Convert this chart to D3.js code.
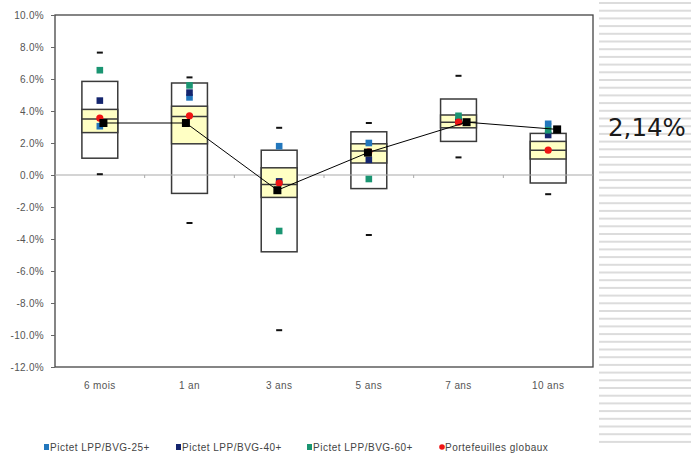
<!DOCTYPE html>
<html>
<head>
<meta charset="utf-8">
<script src="https://cdn.jsdelivr.net/npm/d3@7"></script>
<style>
  html, body { margin: 0; padding: 0; background: #fff; }
  svg { display: block; }
</style>
</head>
<body>
<div id="app"></div>
<script>
// horizons and their values (in %)
const categories = ['6 mois', '1 an', '3 ans', '5 ans', '7 ans', '10 ans'];
const yTicks = [10, 8, 6, 4, 2, 0, -2, -4, -6, -8, -10, -12];

// min / max marks (dashes)
const maxVals = [7.65, 6.1, 2.95, 3.25, 6.2, 3.2];
const minVals = [0.05, -3.0, -9.7, -3.75, 1.1, -1.2];
// outer white box
const boxHigh = [5.85, 5.75, 1.55, 2.7, 4.75, 2.6];
const boxLow = [1.05, -1.15, -4.8, -0.85, 2.1, -0.5];
// yellow inner box + median
const q3 = [4.1, 4.3, 0.45, 1.95, 3.75, 2.1];
const median = [3.5, 3.65, -0.6, 1.5, 3.3, 1.55];
const q1 = [2.65, 1.95, -1.4, 0.75, 2.95, 1.0];

// series points
const lpp25 = [3.05, 4.85, 1.8, 2.0, 3.45, 3.2];
const lpp40 = [4.65, 5.15, -0.4, 0.95, 3.35, 2.5];
const lpp60 = [6.55, 5.6, -3.5, -0.25, 3.7, 2.8];
const globaux = [3.55, 3.7, -0.5, 1.45, 3.3, 1.55];
// black line (x shift in category units)
const lineVals = [3.25, 3.25, -0.95, 1.4, 3.3, 2.85];
const lineShift = [0.04, -0.04, -0.02, -0.01, 0.09, 0.1];

const sideValue = '2,14%';

const legendItems = [
  { label: 'Pictet LPP/BVG-25+', color: '#2277bd', shape: 'square' },
  { label: 'Pictet LPP/BVG-40+', color: '#14256e', shape: 'square' },
  { label: 'Pictet LPP/BVG-60+', color: '#1a9572', shape: 'square' },
  { label: 'Portefeuilles globaux', color: '#f01414', shape: 'dot' }
];

const W = 691, H = 453;
const plot = { left: 55, top: 15, right: 593, bottom: 367 };

const svg = d3.select('#app').append('svg')
  .attr('width', W).attr('height', H)
  .style('font-family', 'Arial, "Liberation Sans", sans-serif');

// decorative stripes on the right
const stripeY = d3.range(2, 446, 7.7);
svg.append('g').selectAll('rect').data(stripeY).join('rect')
  .attr('x', 599).attr('y', d => d)
  .attr('width', W - 599).attr('height', 2)
  .attr('fill', '#dcdcdc');

svg.append('text')
  .attr('x', 608).attr('y', 136)
  .attr('font-family', '"DejaVu Sans", Verdana, sans-serif')
  .attr('font-size', 24.5)
  .attr('fill', '#1a1a1a')
  .text(sideValue);

const x = d3.scaleBand().domain(categories).range([plot.left, plot.right]).padding(0);
const y = d3.scaleLinear().domain([-12, 10]).range([plot.bottom, plot.top]);
const cx = i => x(categories[i]) + x.bandwidth() / 2;
const boxW = x.bandwidth() * 0.4;

// plot frame
svg.append('rect')
  .attr('x', plot.left).attr('y', plot.top)
  .attr('width', plot.right - plot.left).attr('height', plot.bottom - plot.top)
  .attr('fill', '#fff').attr('stroke', '#444').attr('stroke-width', 1.3);

// y axis (plain hyphen as minus, like the original)
const yAxis = svg.append('g')
  .attr('transform', `translate(${plot.left},0)`)
  .call(d3.axisLeft(y).tickValues(yTicks).tickSize(4).tickPadding(7)
    .tickFormat(d => d.toFixed(1) + '%'));
yAxis.select('.domain').remove();
yAxis.selectAll('line').attr('stroke', '#666');
yAxis.selectAll('text').attr('font-size', 10).attr('fill', '#555')
  .attr('letter-spacing', 0.3).attr('font-family', 'Arial, "Liberation Sans", sans-serif');

// category labels
svg.append('g').selectAll('text').data(categories).join('text')
  .attr('x', d => x(d) + x.bandwidth() / 2)
  .attr('y', 389)
  .attr('text-anchor', 'middle')
  .attr('font-size', 10)
  .attr('letter-spacing', 0.4)
  .attr('fill', '#555')
  .text(d => d);

const idx = d3.range(categories.length);

// outer white boxes
svg.append('g').selectAll('rect').data(idx).join('rect')
  .attr('x', i => cx(i) - boxW / 2)
  .attr('y', i => y(boxHigh[i]))
  .attr('width', boxW)
  .attr('height', i => y(boxLow[i]) - y(boxHigh[i]))
  .attr('fill', '#fff').attr('stroke', '#3a3a3a').attr('stroke-width', 1.5);

// zero line with ticks between categories
svg.append('line')
  .attr('x1', plot.left).attr('x2', plot.right)
  .attr('y1', y(0)).attr('y2', y(0))
  .attr('stroke', '#aaa').attr('stroke-width', 1.2);
svg.append('g').selectAll('line').data(categories.slice(0, -1)).join('line')
  .attr('x1', d => x(d) + x.bandwidth()).attr('x2', d => x(d) + x.bandwidth())
  .attr('y1', y(0)).attr('y2', y(0) + 3)
  .attr('stroke', '#aaa');

// yellow inner boxes
svg.append('g').selectAll('rect').data(idx).join('rect')
  .attr('x', i => cx(i) - boxW / 2)
  .attr('y', i => y(q3[i]))
  .attr('width', boxW)
  .attr('height', i => y(q1[i]) - y(q3[i]))
  .attr('fill', '#ffffc4').attr('stroke', '#3a3a3a').attr('stroke-width', 1.5);

// median lines
svg.append('g').selectAll('line').data(idx).join('line')
  .attr('x1', i => cx(i) - boxW / 2).attr('x2', i => cx(i) + boxW / 2)
  .attr('y1', i => y(median[i])).attr('y2', i => y(median[i]))
  .attr('stroke', '#3a3a3a').attr('stroke-width', 1.5);

// min / max dashes
const dashes = idx.flatMap(i => [maxVals[i], minVals[i]].map(v => ({ i, v })));
svg.append('g').selectAll('rect').data(dashes).join('rect')
  .attr('x', d => cx(d.i) - 3).attr('y', d => y(d.v) - 1)
  .attr('width', 6).attr('height', 2)
  .attr('fill', '#111');

// series squares
[[lpp25, legendItems[0].color], [lpp40, legendItems[1].color], [lpp60, legendItems[2].color]]
  .forEach(([vals, color]) => {
    svg.append('g').selectAll('rect').data(vals).join('rect')
      .attr('x', (v, i) => cx(i) - 3.3).attr('y', v => y(v) - 3.3)
      .attr('width', 6.6).attr('height', 6.6)
      .attr('fill', color);
  });

// portefeuilles globaux
svg.append('g').selectAll('circle').data(globaux).join('circle')
  .attr('cx', (v, i) => cx(i)).attr('cy', v => y(v))
  .attr('r', 3.6).attr('fill', legendItems[3].color);

// black line
const lx = i => cx(i) + lineShift[i] * x.bandwidth();
svg.append('path')
  .datum(lineVals)
  .attr('d', d3.line().x((v, i) => lx(i)).y(v => y(v)))
  .attr('fill', 'none').attr('stroke', '#000').attr('stroke-width', 1);
svg.append('g').selectAll('rect').data(lineVals).join('rect')
  .attr('x', (v, i) => lx(i) - 4).attr('y', v => y(v) - 4)
  .attr('width', 8).attr('height', 8)
  .attr('fill', '#000');

// legend
const legendX = [44, 176, 307, 440];
const lg = svg.append('g').selectAll('g').data(legendItems).join('g')
  .attr('transform', (d, i) => `translate(${legendX[i]},447)`);
lg.filter(d => d.shape === 'square').append('rect')
  .attr('x', 0).attr('y', -3).attr('width', 5).attr('height', 6)
  .attr('fill', d => d.color);
lg.filter(d => d.shape === 'dot').append('circle')
  .attr('cx', 2).attr('cy', 0).attr('r', 2.8)
  .attr('fill', d => d.color);
lg.append('text')
  .attr('x', d => d.shape === 'dot' ? 5 : 6)
  .attr('y', 3.5)
  .attr('font-size', 10)
  .attr('letter-spacing', 0.5)
  .attr('fill', '#444')
  .text(d => d.label);
</script>
</body>
</html>
